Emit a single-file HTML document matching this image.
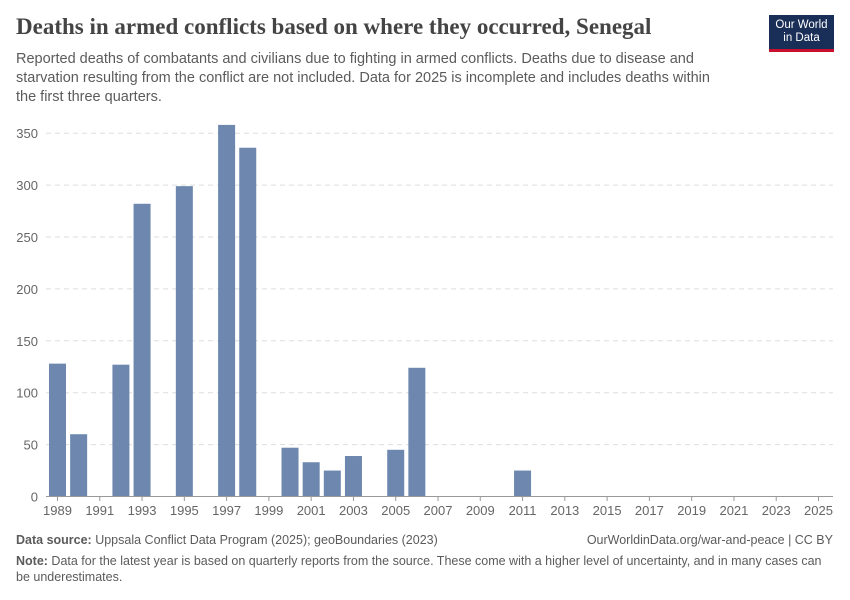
<!DOCTYPE html>
<html><head><meta charset="utf-8"><style>
body{margin:0;width:850px;height:600px;background:#fff;font-family:"Liberation Sans",sans-serif;overflow:hidden;position:relative}
.t{position:absolute;left:16px;top:14px;font-family:"Liberation Serif",serif;font-size:23px;font-weight:bold;color:#444}
.s{position:absolute;left:16px;top:50px;width:712px;font-size:14.5px;line-height:19px;color:#5b5b5b}
.logo{position:absolute;left:769px;top:15px;width:65px;height:37px;background:#1a2f57;color:#fff;font-size:11.5px;line-height:13px;text-align:center;padding-top:4px;box-sizing:border-box;border-bottom:3px solid #c8102e}
.f{position:absolute;left:16px;font-size:12.5px;color:#5b5b5b}
</style></head><body>
<div class="t">Deaths in armed conflicts based on where they occurred, Senegal</div>
<div class="s">Reported deaths of combatants and civilians due to fighting in armed conflicts. Deaths due to disease and starvation resulting from the conflict are not included. Data for 2025 is incomplete and includes deaths within the first three quarters.</div>
<div class="logo">Our World<br>in Data</div>
<svg id="c" width="850" height="600" style="position:absolute;left:0;top:0"></svg>
<div class="f" style="top:533px"><b>Data source:</b> Uppsala Conflict Data Program (2025); geoBoundaries (2023)</div>
<div class="f" style="top:533px;left:auto;right:17px">OurWorldinData.org/war-and-peace | CC BY</div>
<div class="f" style="top:553px;width:810px;line-height:16px"><b>Note:</b> Data for the latest year is based on quarterly reports from the source. These come with a higher level of uncertainty, and in many cases can be underestimates.</div>
<script>
const years=[1989,1990,1992,1993,1995,1997,1998,2000,2001,2002,2003,2005,2006,2011];
const deaths=[128,60,127,282,299,358,336,47,33,25,39,45,124,25];
const yTicks=[0,50,100,150,200,250,300,350];
const xTicks=[1989,1991,1993,1995,1997,1999,2001,2003,2005,2007,2009,2011,2013,2015,2017,2019,2021,2023,2025];
const svg=document.getElementById('c'),NS='http://www.w3.org/2000/svg';
const x=v=>57.5+(v-1989)*(818.5-57.5)/36;
const y=v=>496.5-v*(363.3/350);
function el(t,a){const e=document.createElementNS(NS,t);for(const k in a)e.setAttribute(k,a[k]);svg.appendChild(e);return e;}
yTicks.forEach(v=>{
 if(v>0){const g=el('line',{x1:46,x2:833,y1:y(v),y2:y(v),stroke:'#ddd','stroke-dasharray':'5,4'});
 
 }
 const t=el('text',{x:38,y:y(v)+5,'text-anchor':'end','font-size':13,fill:'#666','font-family':'Liberation Sans'});t.textContent=v;
 
 
});
years.forEach((yr,i)=>{
 const r=el('rect',{x:x(yr)-8.5,y:y(deaths[i]),width:17,height:y(0)-y(deaths[i]),fill:'#6d87ae'});
 
 
});
const ax=el('line',{x1:46,x2:833,y1:496.5,y2:496.5,stroke:'#999'});


xTicks.forEach(v=>{
 el('line',{x1:x(v),x2:x(v),y1:496.5,y2:501,stroke:'#999'});
 const t=el('text',{x:x(v),y:515,'text-anchor':'middle','font-size':13,fill:'#666','font-family':'Liberation Sans'});t.textContent=v;
 
 
});
</script>
</body></html>
